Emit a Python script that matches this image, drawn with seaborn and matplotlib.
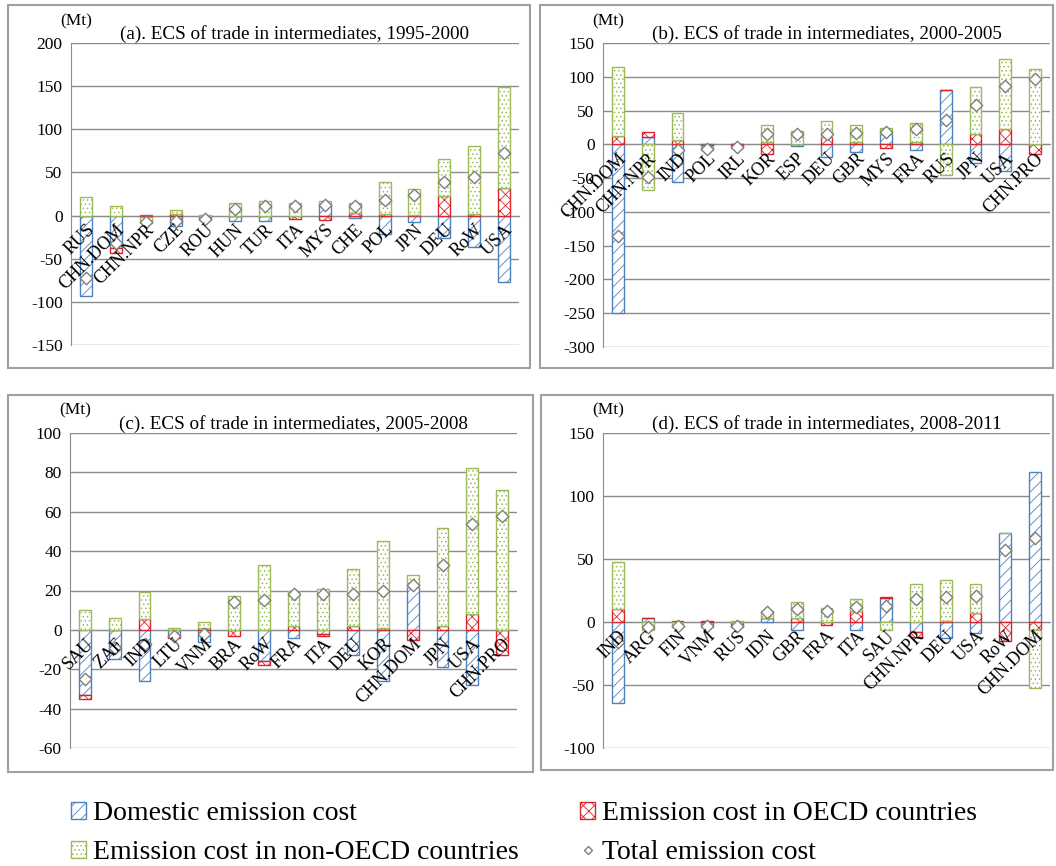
import matplotlib
matplotlib.use("Agg")
import matplotlib.pyplot as plt
import numpy as np
import pandas as pd
import seaborn as sns
from matplotlib.lines import Line2D
from matplotlib.patches import Patch, Rectangle

# ---- data (Mt) ----
a_countries = ["RUS", "CHN.DOM", "CHN.NPR", "CZE", "ROU", "HUN", "TUR", "ITA",
               "MYS", "CHE", "POL", "JPN", "DEU", "RoW", "USA"]
a_domestic = [-93, -38, 1, -12, -5, -6, -6, -1, 13, -3, -21, -8, -26, -36, -77]
a_oecd = [0, -5, -2, 2, 0, 0, 0, -3, -5, 3, 2, 1, 23, 2, 32]
a_non_oecd = [21, 11, -7, 4, 1, 14, 17, 15, 4, 11, 37, 30, 42, 79, 117]
a_total = [-72, -32, -8, -6, -4, 8, 11, 11, 12, 11, 18, 24, 39, 45, 72]

b_countries = ["CHN.DOM", "CHN.NPR", "IND", "POL", "IRL", "KOR", "ESP", "DEU",
               "GBR", "MYS", "FRA", "RUS", "JPN", "USA", "CHN.PRO"]
b_domestic = [-250, 11, -56, -1, 0, 4, -3, -19, -11, 16, -8, 81, -28, -40, 0]
b_oecd = [13, 7, 7, -2, -3, -14, 1, 11, 3, -6, 4, 0, 16, 22, -15]
b_non_oecd = [102, -67, 40, -5, -2, 25, 18, 23, 25, 8, 27, -45, 69, 105, 111]
b_total = [-135, -48, -8, -7, -4, 16, 15, 16, 17, 18, 23, 36, 58, 87, 96]

c_countries = ["SAU", "ZAF", "IND", "LTU", "VNM", "BRA", "RoW", "FRA", "ITA",
               "DEU", "KOR", "CHN.DOM", "JPN", "USA", "CHN.PRO"]
c_domestic = [-33, -15, -26, -3, -6, 0, -16, -4, -2, -13, -26, 22, -19, -28, 0]
c_oecd = [-2, 0, 5.5, -1, 1, -3, -2, 2, -1, 2, 1, -5, 2, 8, -13]
c_non_oecd = [10, 6, 13.5, 1, 3, 17, 33, 18, 21, 29, 44, 6, 50, 74, 71]
c_total = [-25, -9, -7, -3, -2, 14, 15, 18, 18, 18, 20, 23, 33, 54, 58]

d_countries = ["IND", "ARG", "FIN", "VNM", "RUS", "IDN", "GBR", "FRA", "ITA",
               "SAU", "CHN.NPR", "DEU", "USA", "RoW", "CHN.DOM"]
d_domestic = [-64, 3, 0, -2, -2, 3, -6, 0, -6, 19, -8, -13, -9, 71, 119]
d_oecd = [10, 0, 1, 1, -2, 0.5, 3, -2, 9, 0.5, -4, 1, 7, -15, -6]
d_non_oecd = [38, -6, -4, -2, 1, 5, 13, 11, 9, -6, 30, 32, 23, 0, -46]
d_total = [-16, -4, -3, -3, -3, 8, 10, 9, 12, 13, 18, 20, 21, 57, 67]

panel_titles = ["(a). ECS of trade in intermediates, 1995-2000",
                "(b). ECS of trade in intermediates, 2000-2005",
                "(c). ECS of trade in intermediates, 2005-2008",
                "(d). ECS of trade in intermediates, 2008-2011"]
series_names = ["Domestic emission cost", "Emission cost in OECD countries",
                "Emission cost in non-OECD countries"]

BLUE = "#4F81BD"
RED = "#D9242B"
GREEN = "#9BBB59"
GRID = "#8C8C8C"
styles = {
    series_names[0]: dict(edgecolor=BLUE, hatch="///"),
    series_names[1]: dict(edgecolor=RED, hatch="xxx"),
    series_names[2]: dict(edgecolor=GREEN, hatch="...."),
}

sns.set_style("white")
plt.rcParams["font.family"] = ["Liberation Serif", "DejaVu Serif"]
plt.rcParams["hatch.linewidth"] = 0.6
plt.rcParams["axes.unicode_minus"] = False
plt.rcParams["text.color"] = "black"
plt.rcParams["xtick.labelcolor"] = "black"
plt.rcParams["ytick.labelcolor"] = "black"


def draw_panel(ax, countries, dom, oecd, non, total, ylim, step, title):
    frame = pd.DataFrame({"country": countries, series_names[0]: dom,
                          series_names[1]: oecd, series_names[2]: non,
                          "total": total})
    x = np.arange(len(frame))
    pos_base = np.zeros(len(frame))
    neg_base = np.zeros(len(frame))
    for name in series_names:
        vals = frame[name].to_numpy(dtype=float)
        bottom = np.where(vals >= 0, pos_base, neg_base)
        ax.bar(x, vals, width=0.4, bottom=bottom, facecolor="white",
               linewidth=1.0, zorder=3, **styles[name])
        pos_base += np.where(vals >= 0, vals, 0)
        neg_base += np.where(vals < 0, vals, 0)

    frame["x"] = x
    sns.scatterplot(data=frame, x="x", y="total", ax=ax, marker="D", s=40,
                    facecolor="white", edgecolor="#7F7F7F", linewidth=1.0,
                    zorder=4, legend=False)

    ax.set_xlim(-0.5, len(frame) - 0.5)
    ax.set_ylim(*ylim)
    ax.set_yticks(np.arange(ylim[0], ylim[1] + 1, step))
    ax.yaxis.grid(True, color=GRID, linewidth=1.0)
    ax.set_axisbelow(True)
    ax.tick_params(axis="y", length=0, labelsize=12.5, pad=6, labelcolor="black")

    # category axis sits on zero, with tick marks between categories
    for side in ["top", "right"]:
        ax.spines[side].set_visible(False)
    ax.spines["left"].set_color(GRID)
    ax.spines["bottom"].set_position(("data", 0))
    ax.spines["bottom"].set_color(GRID)
    ax.spines["bottom"].set_zorder(2)
    ax.set_xticks(np.arange(len(frame) + 1) - 0.5)
    ax.set_xticklabels([])
    ax.tick_params(axis="x", which="major", length=5, color=GRID, direction="out")
    ax.set_xticks(x, minor=True)
    ax.set_xticklabels(countries, minor=True, rotation=45, ha="right",
                       va="top", rotation_mode="anchor", fontsize=13)
    ax.tick_params(axis="x", which="minor", length=0, pad=4, labelcolor="black")
    ax.xaxis.set_zorder(5)  # labels sit on top of the bars, as in Excel
    ax.set_xlabel("")
    ax.set_ylabel("")

    ax.text(0.5, 1.0, title, transform=ax.transAxes, ha="center",
            va="bottom", fontsize=13.8)
    ax.text(-0.025, 1.045, "(Mt)", transform=ax.transAxes, ha="left",
            va="bottom", fontsize=12.5)


fig = plt.figure(figsize=(10.56, 8.66), dpi=100)
W, H = 1056, 866


def add_axes(left, right, top, bottom):
    return fig.add_axes([left / W, 1 - bottom / H, (right - left) / W,
                         (bottom - top) / H])


ax_a = add_axes(71, 519, 43, 345)
ax_b = add_axes(603, 1050, 43, 347)
ax_c = add_axes(70, 517, 433, 748)
ax_d = add_axes(603, 1050, 433, 748)

draw_panel(ax_a, a_countries, a_domestic, a_oecd, a_non_oecd, a_total,
           (-150, 200), 50, panel_titles[0])
draw_panel(ax_b, b_countries, b_domestic, b_oecd, b_non_oecd, b_total,
           (-300, 150), 50, panel_titles[1])
draw_panel(ax_c, c_countries, c_domestic, c_oecd, c_non_oecd, c_total,
           (-60, 100), 20, panel_titles[2])
draw_panel(ax_d, d_countries, d_domestic, d_oecd, d_non_oecd, d_total,
           (-100, 150), 50, panel_titles[3])

# chart-area borders
for (l, r, t, b) in [(8, 530, 5, 368), (540, 1053, 5, 368),
                     (8, 533, 395, 772), (541, 1053, 395, 770)]:
    fig.add_artist(Rectangle((l / W, 1 - b / H), (r - l) / W, (b - t) / H,
                             transform=fig.transFigure, fill=False,
                             edgecolor="#A0A0A0", linewidth=1.5))

handles = [
    Patch(facecolor="white", label=series_names[0], **styles[series_names[0]]),
    Patch(facecolor="white", label=series_names[2], **styles[series_names[2]]),
    Patch(facecolor="white", label=series_names[1], **styles[series_names[1]]),
    Line2D([], [], marker="D", linestyle="none", markersize=4,
           markerfacecolor="white", markeredgecolor="#7F7F7F",
           label="Total emission cost"),
]
fig.legend(handles=handles, ncol=2, loc="upper left",
           bbox_to_anchor=(60 / W, 1 - 790 / H), frameon=False, fontsize=20,
           handlelength=0.55, handleheight=0.55, handletextpad=0.25,
           columnspacing=2.2, labelspacing=0.5, borderaxespad=0,
           labelcolor="black")

fig.savefig("out.png", dpi=100)
